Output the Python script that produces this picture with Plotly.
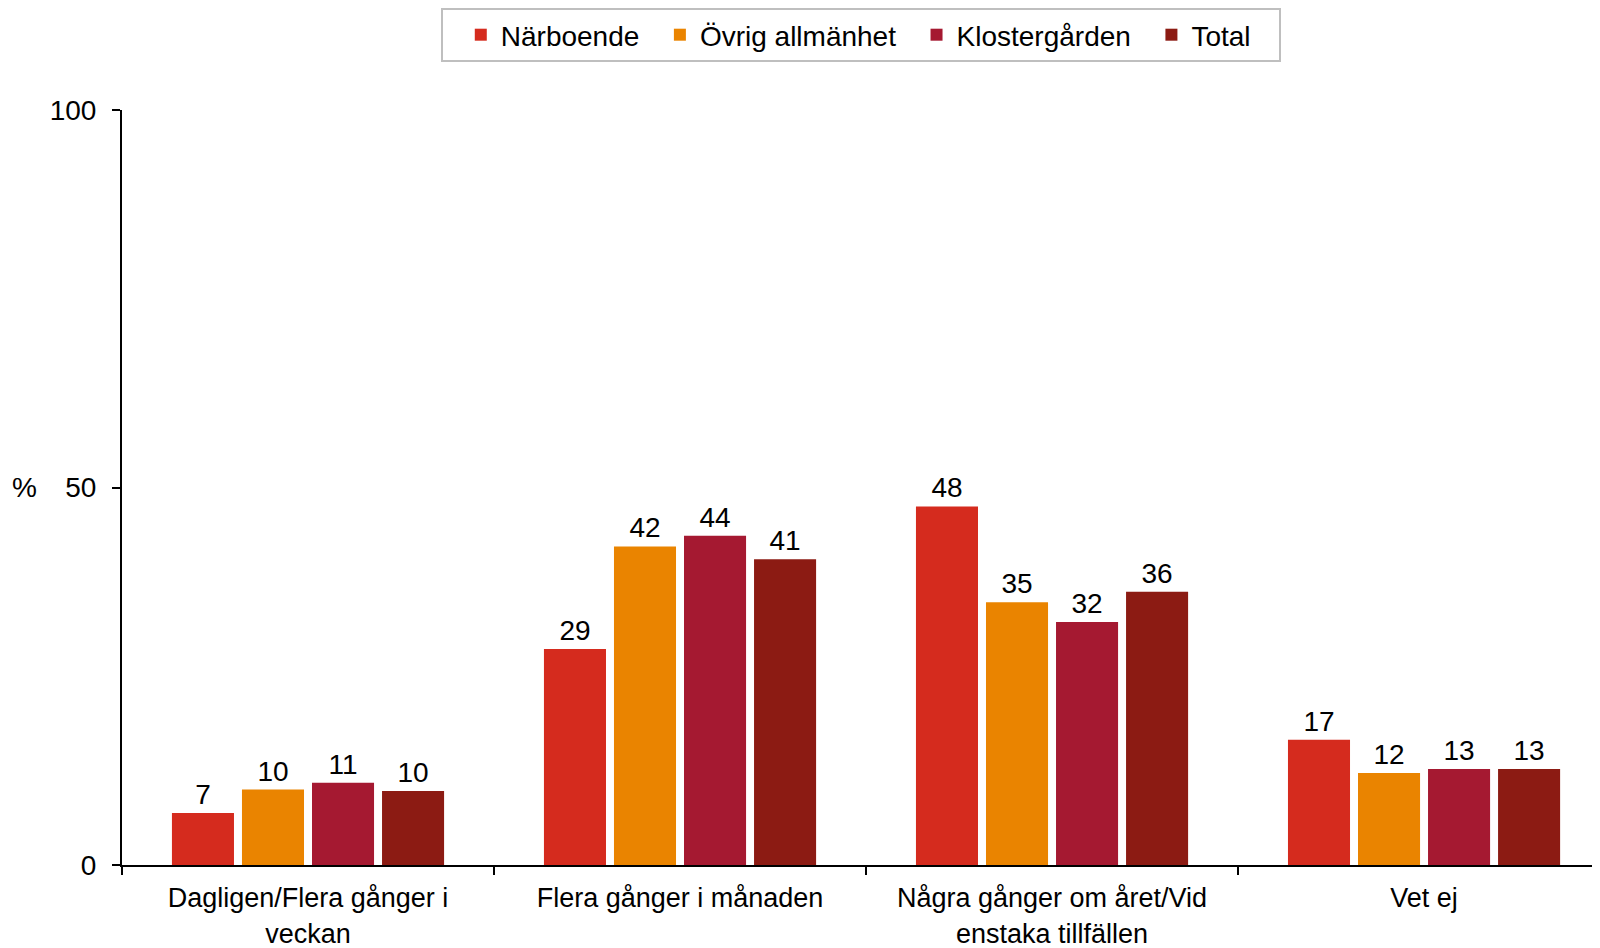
import plotly.graph_objects as go

categories = ["Dagligen/Flera gånger i<br>veckan", "Flera gånger i månaden",
              "Några gånger om året/Vid<br>enstaka tillfällen", "Vet ej"]
series_names = ["Närboende", "Övrig allmänhet", "Klostergården", "Total"]
narboende = [6.9, 28.6, 47.5, 16.6]
ovrig = [10.0, 42.2, 34.8, 12.2]
klostergarden = [10.9, 43.6, 32.2, 12.7]
total = [9.8, 40.5, 36.2, 12.7]
colors = ["#D52B1E", "#EA8400", "#A51931", "#8C1B13"]
y_ticks = [0, 50, 100]

FONT = "Liberation Sans, Arial, sans-serif"
FS = 28
fig = go.Figure()
all_vals = [narboende, ovrig, klostergarden, total]
for i, (name, vals, col) in enumerate(zip(series_names, all_vals, colors)):
    pad = "\u00a0\u00a0\u00a0" if i == len(series_names) - 1 else "\u00a0\u00a0"
    fig.add_trace(go.Bar(
        x=categories, y=vals, name=name + pad, marker=dict(color=col, line=dict(width=0)),
        texttemplate="%{y:.0f}", textposition="outside",
        textfont=dict(family=FONT, size=FS, color="black"), cliponaxis=False,
    ))

# page body has an 8px margin, so the figure is sized to fit 1600x948 window
fig.update_layout(
    width=1592, height=940,
    paper_bgcolor="white", plot_bgcolor="white",
    margin=dict(l=114, r=0, t=102, b=83, autoexpand=False),
    barmode="group", bargap=0.247, bargroupgap=0.114,
    font=dict(family=FONT, size=FS, color="black"),
    showlegend=True,
    legend=dict(orientation="h", x=0.5, xanchor="center", y=1.0, yanchor="top",
                yref="container", bordercolor="#BFBFBF", borderwidth=2,
                font=dict(size=FS), itemwidth=30, traceorder="normal",
                title=dict(text="\u00a0", font=dict(size=FS))),
    xaxis=dict(showline=True, linecolor="black", linewidth=2, ticks="outside",
               tickson="boundaries", ticklen=8, tickcolor="black", tickwidth=1.5,
               showgrid=False, tickfont=dict(size=27), fixedrange=True,
               ticklabelstandoff=8, range=[-0.5, 3.473]),
    yaxis=dict(range=[0, 100], tickvals=y_ticks, showline=True, linecolor="black",
               linewidth=2, ticks="outside", ticklen=8, tickcolor="black", tickwidth=1.5,
               showgrid=False, zeroline=False, tickfont=dict(size=FS),
               ticklabelstandoff=10),
    annotations=[dict(text="%", xref="paper", yref="y", x=0, y=50, xshift=-97.5,
                      xanchor="center", showarrow=False, font=dict(size=FS))],
)
fig.write_html("out.html")
